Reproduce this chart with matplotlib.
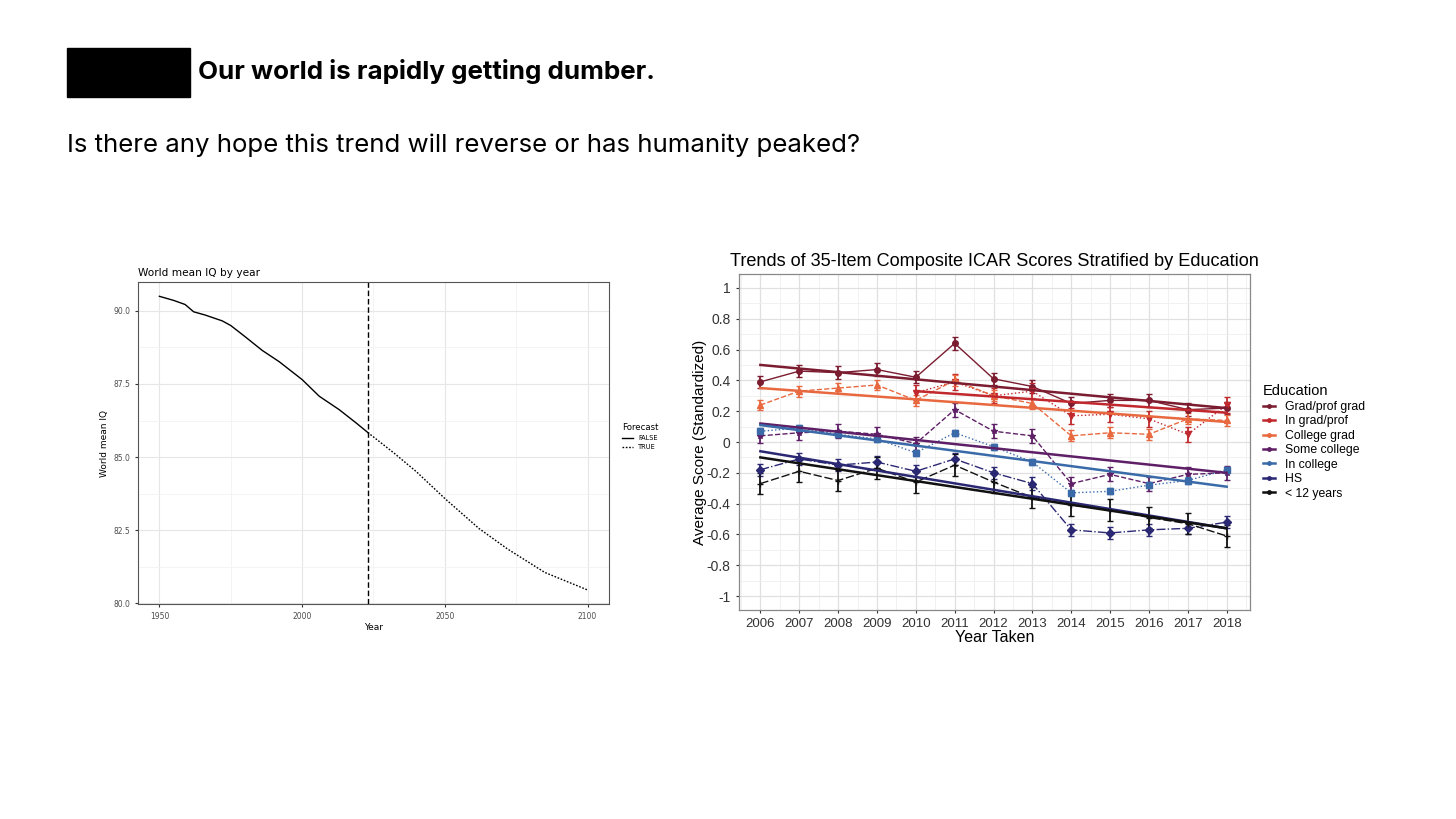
import matplotlib.pyplot as plt
import numpy as np
from matplotlib.lines import Line2D
from matplotlib.patches import Rectangle

W, H = 1456, 819

# World mean IQ (left chart)
iq_years = [1950, 1955, 1959, 1962, 1966, 1972, 1975, 1980, 1986, 1992, 2000,
            2006, 2013, 2019, 2023]
iq_values = [90.5, 90.36, 90.22, 89.97, 89.86, 89.66, 89.5, 89.12, 88.65,
             88.26, 87.65, 87.08, 86.62, 86.16, 85.84]
fc_years = [2023, 2032, 2040, 2050, 2062, 2072, 2085, 2100]
fc_values = [85.84, 85.15, 84.5, 83.58, 82.55, 81.85, 81.05, 80.45]
forecast_start = 2023

# ICAR scores (right chart)
years = [2006, 2007, 2008, 2009, 2010, 2011, 2012, 2013, 2014, 2015, 2016, 2017, 2018]
groups = ["Grad/prof grad", "In grad/prof", "College grad", "Some college",
          "In college", "HS", "< 12 years"]
grad_prof_grad = [0.39, 0.46, 0.45, 0.47, 0.42, 0.64, 0.41, 0.36, 0.25, 0.27, 0.27, 0.21, 0.22]
in_grad_prof = [None, None, None, None, 0.32, 0.39, 0.30, 0.33, 0.17, 0.18, 0.15, 0.05, 0.24]
college_grad = [0.24, 0.33, 0.35, 0.37, 0.27, 0.40, 0.30, 0.25, 0.04, 0.06, 0.05, 0.15, 0.14]
some_college = [0.04, 0.06, 0.07, 0.05, -0.01, 0.21, 0.07, 0.04, -0.27, -0.21, -0.27, -0.21, -0.20]
in_college = [0.07, 0.09, 0.05, 0.02, -0.07, 0.06, -0.03, -0.13, -0.33, -0.32, -0.28, -0.25, -0.18]
hs = [-0.18, -0.11, -0.15, -0.13, -0.19, -0.11, -0.20, -0.27, -0.57, -0.59, -0.57, -0.56, -0.52]
under_12 = [-0.27, -0.19, -0.25, -0.17, -0.26, -0.15, -0.26, -0.36, -0.41, -0.44, -0.49, -0.53, -0.61]
series = [grad_prof_grad, in_grad_prof, college_grad, some_college, in_college, hs, under_12]
errors = [0.04, 0.05, 0.035, 0.045, 0.02, 0.04, 0.07]
trend_x0 = [2006, 2010, 2006, 2006, 2006, 2006, 2006]
trend_y0 = [0.50, 0.33, 0.35, 0.12, 0.11, -0.06, -0.10]
trend_y1 = [0.22, 0.19, 0.13, -0.20, -0.29, -0.56, -0.56]

colors = ["#7b1c30", "#c0282d", "#e8693f", "#5e1f66", "#3a6aa8", "#2b2873", "#111111"]
styles = ["-", ":", "--", "--", ":", "-.", (0, (6, 2))]
markers = ["o", "v", "^", "*", "s", "D", "+"]


def px_axes(fig, x0, y0, x1, y1):
    return fig.add_axes([x0 / W, 1 - y1 / H, (x1 - x0) / W, (y1 - y0) / H])


fig = plt.figure(figsize=(W / 100, H / 100), dpi=100)

# header
fig.patches.append(Rectangle((67 / W, 1 - 97 / H), 123 / W, 49 / H,
                             transform=fig.transFigure, color="black"))
fig.text(198 / W, 1 - 72 / H, "Our world is rapidly getting dumber.",
         family="Inter", weight="bold", fontsize=18.7, va="center")
fig.text(67 / W, 1 - 145 / H,
         "Is there any hope this trend will reverse or has humanity peaked?",
         family="Inter", fontsize=18.6, va="center")

# left chart
ax = px_axes(fig, 138, 282, 609, 604)
ax.plot(iq_years, iq_values, color="black", lw=1)
ax.plot(fc_years, fc_values, color="black", lw=1, ls=(0, (1.2, 1.2)))
ax.axvline(forecast_start, color="black", lw=1, ls=(0, (4, 2)))
ax.set_xlim(1942.5, 2107.5)
ax.set_ylim(79.97, 90.99)
ax.set_xticks([1950, 2000, 2050, 2100])
ax.set_xticks([1975, 2025, 2075], minor=True)
ax.set_yticks([80, 82.5, 85, 87.5, 90])
ax.set_yticklabels(["80.0", "82.5", "85.0", "87.5", "90.0"])
ax.set_yticks([81.25, 83.75, 86.25, 88.75], minor=True)
ax.grid(True, which="major", color="#e6e6e6", lw=0.8)
ax.grid(True, which="minor", color="#f2f2f2", lw=0.6)
ax.set_axisbelow(True)
ax.tick_params(labelsize=5.5, length=2, color="#333333", labelcolor="#4d4d4d")
ax.tick_params(which="minor", length=0)
for s in ax.spines.values():
    s.set_color("#555555")
    s.set_linewidth(0.8)
ax.set_xlabel("Year", fontsize=6.5, labelpad=2)
ax.set_ylabel("World mean IQ", fontsize=6.5, labelpad=3)
ax.set_title("World mean IQ by year", fontsize=7.6, loc="left", pad=4)
leg_handles = [Line2D([], [], color="black", lw=1),
               Line2D([], [], color="black", lw=1, ls=(0, (1.2, 1.2)))]
leg = ax.legend(leg_handles, ["FALSE", "TRUE"], title="Forecast", fontsize=4.8,
                title_fontsize=6.2, frameon=False, loc="center left",
                bbox_to_anchor=(1.015, 0.52), handlelength=1.6, labelspacing=0.5)
leg._legend_box.align = "left"

# right chart
ax2 = px_axes(fig, 739, 274, 1250, 610)
for i, name in enumerate(groups):
    xs = [x for x, v in zip(years, series[i]) if v is not None]
    ys = [v for v in series[i] if v is not None]
    ax2.errorbar(xs, ys, yerr=errors[i], color=colors[i], ls=styles[i], lw=1,
                 marker=markers[i], ms=4, capsize=2.5, elinewidth=1.3, zorder=3)
    ax2.plot([trend_x0[i], 2018], [trend_y0[i], trend_y1[i]], color=colors[i],
             lw=1.8, zorder=4)
ax2.set_xlim(2005.45, 2018.6)
ax2.set_ylim(-1.09, 1.09)
ax2.set_xticks(years)
ax2.set_xticks(np.arange(2005.5, 2018.6, 1.0), minor=True)
yt = [-1, -0.8, -0.6, -0.4, -0.2, 0, 0.2, 0.4, 0.6, 0.8, 1]
ax2.set_yticks(yt)
ax2.set_yticklabels(["-1", "-0.8", "-0.6", "-0.4", "-0.2", "0", "0.2", "0.4", "0.6", "0.8", "1"])
ax2.set_yticks(np.arange(-0.9, 1.0, 0.2), minor=True)
ax2.grid(True, which="major", color="#e0e0e0", lw=0.9)
ax2.grid(True, which="minor", color="#efefef", lw=0.6)
ax2.set_axisbelow(True)
ax2.tick_params(labelsize=9.5, length=2.5, color="#333333", labelcolor="#333333")
ax2.tick_params(axis="y", labelsize=10)
ax2.tick_params(which="minor", length=0)
for s in ax2.spines.values():
    s.set_color("#888888")
    s.set_linewidth(0.9)
ax2.set_xlabel("Year Taken", family="Liberation Sans", fontsize=11.5, labelpad=0)
ax2.set_ylabel("Average Score (Standardized)", family="Liberation Sans",
               fontsize=11, labelpad=0)
ax2.set_title("Trends of 35-Item Composite ICAR Scores Stratified by Education",
              family="Liberation Sans", fontsize=13.1, pad=6)
for lab in ax2.get_xticklabels() + ax2.get_yticklabels():
    lab.set_family("Liberation Sans")
edu_handles = [Line2D([], [], color=c, lw=1.8, marker="o", ms=2.5) for c in colors]
leg2 = ax2.legend(edu_handles, groups, title="Education",
                  prop={"family": "Liberation Sans", "size": 8.8},
                  title_fontproperties={"family": "Liberation Sans", "size": 10.5},
                  frameon=False, loc="center left", bbox_to_anchor=(1.003, 0.5),
                  handlelength=1.0, labelspacing=0.2, handletextpad=0.8)
leg2._legend_box.align = "left"

fig.savefig("out.png", dpi=100)
